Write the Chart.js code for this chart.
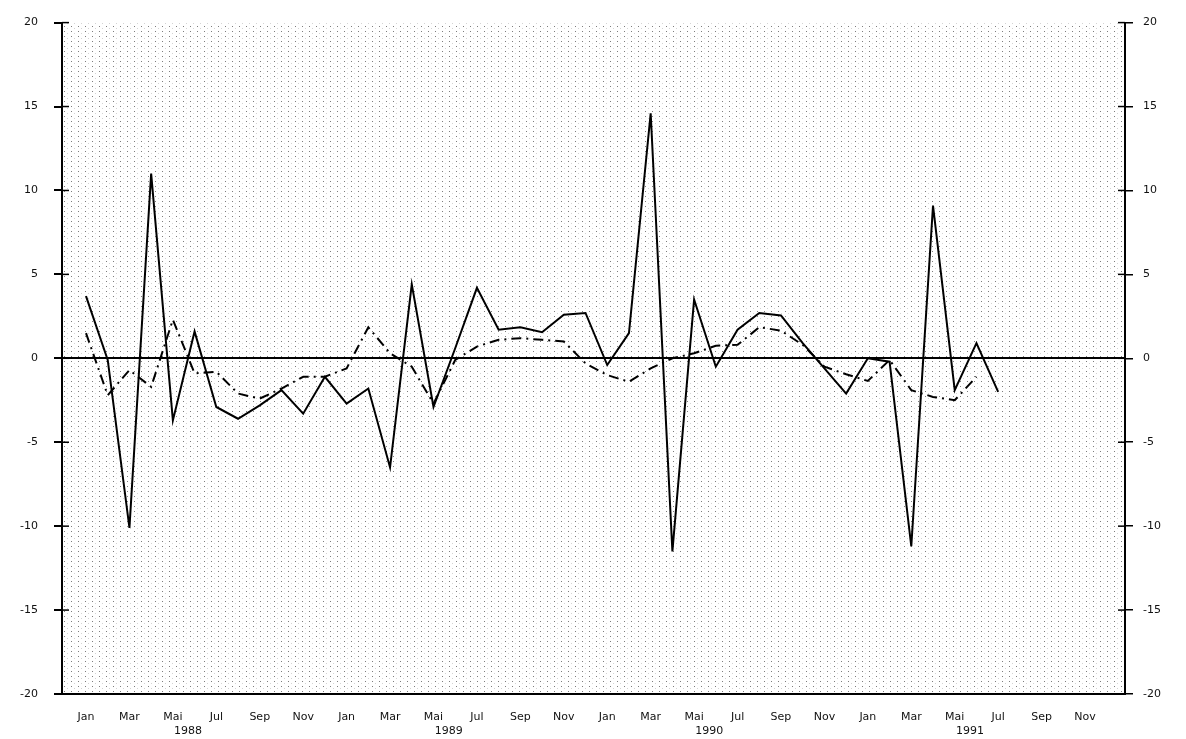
<!DOCTYPE html>
<html>
<head>
<meta charset="utf-8">
<script src="https://cdn.jsdelivr.net/npm/chart.js@4.4.0/dist/chart.umd.min.js"></script>
<style>
  html, body { margin: 0; padding: 0; background: #fff; }
  #wrap { width: 1186px; height: 739px; }
</style>
</head>
<body>
<div id="wrap"><canvas id="myChart" width="1186" height="739"></canvas></div>
<script>
// x values are months counted from Jan 1988 (0 = Jan 1988)
const monthTicks = [0, 2, 4, 6, 8, 10, 12, 14, 16, 18, 20, 22, 24, 26, 28, 30, 32, 34, 36, 38, 40, 42, 44, 46];
const monthLabels = ['Jan', 'Mar', 'Mai', 'Jul', 'Sep', 'Nov',
                     'Jan', 'Mar', 'Mai', 'Jul', 'Sep', 'Nov',
                     'Jan', 'Mar', 'Mai', 'Jul', 'Sep', 'Nov',
                     'Jan', 'Mar', 'Mai', 'Jul', 'Sep', 'Nov'];
const yearTicks = [4.7, 16.7, 28.7, 40.7];
const yearLabels = ['1988', '1989', '1990', '1991'];

// solid line, Jan 1988 .. Jul 1991
const solidValues = [3.7, -0.1, -10.1, 11.0, -3.7, 1.6, -2.9, -3.6, -2.8, -1.9, -3.3, -1.1,
                     -2.7, -1.8, -6.5, 4.4, -2.9, 0.6, 4.2, 1.7, 1.85, 1.55, 2.6, 2.7,
                     -0.4, 1.5, 14.6, -11.5, 3.5, -0.5, 1.7, 2.7, 2.55, 0.9, -0.6, -2.1,
                     0.0, -0.2, -11.2, 9.1, -1.9, 0.9, -2.0];
// dash-dot line, Jan 1988 .. Jun 1991
const dashDotValues = [1.5, -2.2, -0.7, -1.7, 2.3, -0.9, -0.8, -2.1, -2.4, -1.8, -1.1, -1.1,
                       -0.6, 1.85, 0.3, -0.5, -2.7, -0.1, 0.7, 1.1, 1.2, 1.1, 1.0, -0.3,
                       -1.0, -1.4, -0.6, 0.0, 0.3, 0.75, 0.8, 1.85, 1.65, 0.8, -0.5, -0.95,
                       -1.35, -0.1, -1.9, -2.3, -2.5, -1.1];

const X_MIN = -1.105;
const X_MAX = 47.84;
const tickFont = { family: 'DejaVu Sans', size: 11 };

function toPoints(values) {
    return values.map((v, i) => ({ x: i, y: v }));
}

// dotted paper behind the plot
function makePattern(ctx) {
    const c = document.createElement('canvas');
    c.width = 7;
    c.height = 5;
    const p = c.getContext('2d');
    p.fillStyle = '#7c7c7c';
    p.fillRect(1, 1, 1, 1);
    p.fillStyle = '#d4d4d4';
    p.fillRect(4, 3, 1, 1);
    return ctx.createPattern(c, 'repeat');
}

const dotBackground = {
    id: 'dotBackground',
    beforeDraw(chart) {
        const { ctx, chartArea } = chart;
        ctx.save();
        ctx.fillStyle = makePattern(ctx);
        ctx.fillRect(chartArea.left, chartArea.top, chartArea.right - chartArea.left, chartArea.bottom - chartArea.top);
        ctx.restore();
    }
};

// the y tick marks cross the axis line, so add the inner half
const innerTicks = {
    id: 'innerTicks',
    afterDraw(chart) {
        const ctx = chart.ctx;
        ctx.save();
        ctx.strokeStyle = '#000';
        ctx.lineWidth = 1.5;
        ['y', 'y2'].forEach(id => {
            const s = chart.scales[id];
            const x = id === 'y' ? chart.chartArea.left : chart.chartArea.right;
            const dir = id === 'y' ? 1 : -1;
            s.ticks.forEach(t => {
                const py = s.getPixelForValue(t.value);
                ctx.beginPath();
                ctx.moveTo(x, py);
                ctx.lineTo(x + dir * 7, py);
                ctx.stroke();
            });
        });
        ctx.restore();
    }
};

function createChart() {
    const ctx = document.getElementById('myChart').getContext('2d');
    new Chart(ctx, {
        type: 'line',
        data: {
            datasets: [{
                data: toPoints(solidValues),
                borderColor: '#000',
                borderWidth: 2,
                pointRadius: 0,
                tension: 0,
                fill: false
            }, {
                data: toPoints(dashDotValues),
                borderColor: '#000',
                borderWidth: 2,
                borderDash: [10, 5, 2, 5],
                pointRadius: 0,
                tension: 0,
                fill: false
            }]
        },
        options: {
            responsive: false,
            animation: false,
            devicePixelRatio: 1,
            layout: { padding: { top: 20, bottom: 0, left: 0, right: 0 } },
            plugins: { legend: { display: false }, tooltip: { enabled: false } },
            scales: {
                x: {
                    type: 'linear',
                    position: 'bottom',
                    min: X_MIN,
                    max: X_MAX,
                    afterBuildTicks: s => { s.ticks = monthTicks.map(v => ({ value: v })); },
                    afterFit: s => { s.height = 30; },
                    grid: { display: false, drawTicks: false },
                    border: { display: true, color: '#000', width: 2 },
                    ticks: {
                        autoSkip: false,
                        maxRotation: 0,
                        padding: 17,
                        color: '#111',
                        font: tickFont,
                        callback: (v, i) => monthLabels[i]
                    }
                },
                years: {
                    type: 'linear',
                    position: 'bottom',
                    min: X_MIN,
                    max: X_MAX,
                    afterBuildTicks: s => { s.ticks = yearTicks.map(v => ({ value: v })); },
                    afterFit: s => { s.height = 15; },
                    grid: { display: false, drawTicks: false },
                    border: { display: false },
                    ticks: {
                        autoSkip: false,
                        maxRotation: 0,
                        padding: 1,
                        color: '#111',
                        font: tickFont,
                        callback: (v, i) => yearLabels[i]
                    }
                },
                y: {
                    position: 'left',
                    min: -20,
                    max: 20,
                    afterFit: s => { s.width = 62; },
                    grid: {
                        color: c => (c.tick && c.tick.value === 0 ? '#000' : 'rgba(0,0,0,0)'),
                        lineWidth: 2,
                        tickColor: '#000',
                        tickLength: 8
                    },
                    border: { display: true, color: '#000', width: 2 },
                    ticks: { stepSize: 5, padding: 16, color: '#111', font: tickFont }
                },
                y2: {
                    position: 'right',
                    min: -20,
                    max: 20,
                    afterFit: s => { s.width = 61; },
                    grid: { drawOnChartArea: false, tickColor: '#000', tickLength: 8, lineWidth: 1.5 },
                    border: { display: true, color: '#000', width: 2 },
                    ticks: { stepSize: 5, padding: 10, color: '#111', font: tickFont }
                }
            }
        },
        plugins: [dotBackground, innerTicks]
    });
}

window.onload = createChart;
</script>
</body>
</html>
